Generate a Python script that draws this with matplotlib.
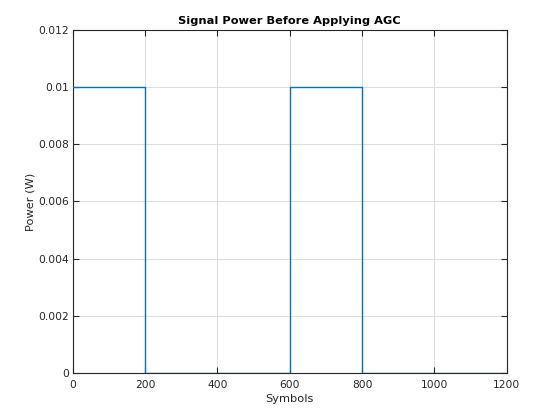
import matplotlib
matplotlib.use("Agg")
import matplotlib.pyplot as plt

# signal power per segment (symbols)
seg_edges = [0, 200, 600, 800, 1200]
seg_power = [0.01, 0, 0.01, 0]

x_ticks = [0, 200, 400, 600, 800, 1000, 1200]
y_ticks = [0, 0.002, 0.004, 0.006, 0.008, 0.01, 0.012]
y_labels = ["0", "0.002", "0.004", "0.006", "0.008", "0.01", "0.012"]

plt.rcParams['font.family'] = 'DejaVu Sans'
fig = plt.figure(figsize=(5.6, 4.2), dpi=100)
ax = fig.add_axes([0.13, 0.112, 0.775, 0.817])

x = []
y = []
for i, p in enumerate(seg_power):
    x += [seg_edges[i], seg_edges[i + 1]]
    y += [p, p]
ax.plot(x, y, color='#0072BD', linewidth=1.0, zorder=3)

ax.set_xlim(0, 1200)
ax.set_ylim(0, 0.012)
ax.set_xticks(x_ticks)
ax.set_yticks(y_ticks)
ax.set_yticklabels(y_labels)
ax.grid(True, color='#dcdcdc', linewidth=0.7)
ax.set_axisbelow(True)

for s in ax.spines.values():
    s.set_color('#262626')
    s.set_linewidth(0.8)
ax.tick_params(direction='in', length=4, width=0.8, colors='#262626',
               labelsize=7.7, top=True, right=True, pad=3)
ax.tick_params(axis='x', pad=5)

ax.set_xlabel("Symbols", fontsize=8.2, color='#262626', labelpad=3)
ax.set_ylabel("Power (W)", fontsize=8.2, color='#262626', labelpad=2)
ax.set_title("Signal Power Before Applying AGC", fontsize=8.2, fontweight='bold',
             color='black', pad=4)

fig.savefig("out.png", dpi=100)
